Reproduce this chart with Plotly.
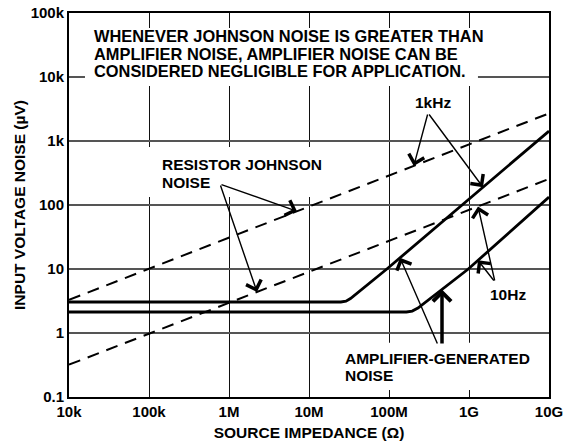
import numpy as np
import plotly.graph_objects as go

# ---- data ----
x_ticks = [1e4, 1e5, 1e6, 1e7, 1e8, 1e9, 1e10]
x_ticktext = ["10k", "100k", "1M", "10M", "100M", "1G", "10G"]
y_ticks = [0.1, 1, 10, 100, 1e3, 1e4, 1e5]
y_ticktext = ["0.1", "1", "10", "100", "1k", "10k", "100k"]

johnson_x = [1e4, 1e10]
johnson_1khz = [3.3, 2700]
johnson_10hz = [0.32, 255]

amp_1khz_x = [1e4, 2.5e7, 2.9e7, 3.3e7, 9.4e7, 1e10]
amp_1khz_y = [3.05, 3.05, 3.14, 3.45, 10, 1430]
amp_10hz_x = [1e4, 1.65e8, 1.95e8, 2.3e8, 9.8e8, 1e10]
amp_10hz_y = [2.13, 2.13, 2.2, 2.45, 10, 133]

FONT = "Liberation Sans, Arial, sans-serif"

fig = go.Figure()
for ys in (johnson_1khz, johnson_10hz):
    fig.add_trace(go.Scatter(x=johnson_x, y=ys, mode="lines",
                             line=dict(color="black", width=2, dash="12px,8px"),
                             showlegend=False, hoverinfo="skip"))
fig.add_trace(go.Scatter(x=amp_1khz_x, y=amp_1khz_y, mode="lines",
                         line=dict(color="black", width=2.8), showlegend=False))
fig.add_trace(go.Scatter(x=amp_10hz_x, y=amp_10hz_y, mode="lines",
                         line=dict(color="black", width=2.8), showlegend=False))


def on_line(xs, ys, lx):
    return float(np.interp(lx, np.log10(xs), np.log10(ys)))


def arrow(tip_lx, xs, ys, tail_lx, tail_ly, width=1.4, size=2.2):
    return dict(x=tip_lx, y=on_line(xs, ys, tip_lx), xref="x", yref="y",
                ax=tail_lx, ay=tail_ly, axref="x", ayref="y", text="",
                showarrow=True, arrowhead=4, arrowsize=size, arrowwidth=width,
                arrowcolor="black")


ann = []
# 1kHz arrows
ann.append(arrow(8.31, johnson_x, johnson_1khz, 8.4875, 3.4375))
ann.append(arrow(9.175, amp_1khz_x, amp_1khz_y, 8.4875, 3.4375))
# Resistor Johnson noise arrows
ann.append(arrow(6.85, johnson_x, johnson_1khz, 5.8875, 2.328))
ann.append(arrow(6.35, johnson_x, johnson_10hz, 5.8875, 2.328))
# 10Hz arrows
ann.append(arrow(9.1125, johnson_x, johnson_10hz, 9.325, 0.797))
ann.append(arrow(9.1125, amp_10hz_x, amp_10hz_y, 9.325, 0.797))
# amplifier-generated noise arrows
ann.append(arrow(8.1375, amp_1khz_x, amp_1khz_y, 8.6125, -0.1875))
ann.append(arrow(8.6625, amp_10hz_x, amp_10hz_y, 8.6625, -0.1875, width=3.5, size=1.0))


def label(text, x, y, size=15.5, xanchor="left"):
    return dict(text=text, x=x, y=y, xref="paper", yref="paper", showarrow=False,
                xanchor=xanchor, yanchor="middle",
                font=dict(family=FONT, size=size, color="black", weight="bold"))


ann += [
    label("WHENEVER JOHNSON NOISE IS GREATER THAN", 0.0479, 0.9414, 16.4),
    label("AMPLIFIER NOISE, AMPLIFIER NOISE CAN BE", 0.0479, 0.8945, 16.4),
    label("CONSIDERED NEGLIGIBLE FOR APPLICATION.", 0.0479, 0.8477, 16.4),
    label("RESISTOR JOHNSON", 0.1896, 0.6055),
    label("NOISE", 0.1896, 0.5586),
    label("AMPLIFIER-GENERATED", 0.5708, 0.099),
    label("NOISE", 0.5708, 0.056),
    label("1kHz", 0.7583, 0.768, xanchor="center"),
    label("10Hz", 0.915, 0.268, xanchor="center"),
]

shapes = [
    dict(type="rect", xref="paper", yref="paper", x0=0.0333, x1=0.852, y0=0.810, y1=0.961,
         fillcolor="white", line=dict(width=0), layer="above"),
    dict(type="rect", xref="paper", yref="paper", x0=0.148, x1=0.519, y0=0.521, y1=0.651,
         fillcolor="white", line=dict(width=0), layer="above"),
    dict(type="rect", xref="paper", yref="paper", x0=0.556, x1=0.997, y0=0.018, y1=0.141,
         fillcolor="white", line=dict(width=0), layer="above"),
]

fig.update_layout(
    width=569, height=445,
    margin=dict(l=69, r=20, t=13, b=48, autoexpand=False),
    paper_bgcolor="white", plot_bgcolor="white",
    font=dict(family=FONT, size=15, color="black", weight="bold"),
    annotations=ann, shapes=shapes, showlegend=False,
    xaxis=dict(type="log", range=[4, 10], tickvals=x_ticks, ticktext=x_ticktext,
               showgrid=True, gridcolor="#111111", gridwidth=1.2,
               showline=True, mirror=True, linecolor="black", linewidth=2,
               ticks="", zeroline=False, automargin=False,
               tickfont=dict(family=FONT, size=15, weight="bold"),
               title=dict(text="SOURCE IMPEDANCE (Ω)", standoff=8,
                          font=dict(family=FONT, size=15.5, weight="bold"))),
    yaxis=dict(type="log", range=[-1, 5], tickvals=y_ticks, ticktext=y_ticktext,
               showgrid=True, gridcolor="#555555", gridwidth=2,
               showline=True, mirror=True, linecolor="black", linewidth=2,
               ticks="", zeroline=False, automargin=False,
               tickfont=dict(family=FONT, size=15, weight="bold"),
               title=dict(text="INPUT VOLTAGE NOISE (µV)", standoff=1,
                          font=dict(family=FONT, size=15.5, weight="bold"))),
)

fig.write_html("out.html", config={"displayModeBar": False},
               post_script="document.body.style.margin='0';")
